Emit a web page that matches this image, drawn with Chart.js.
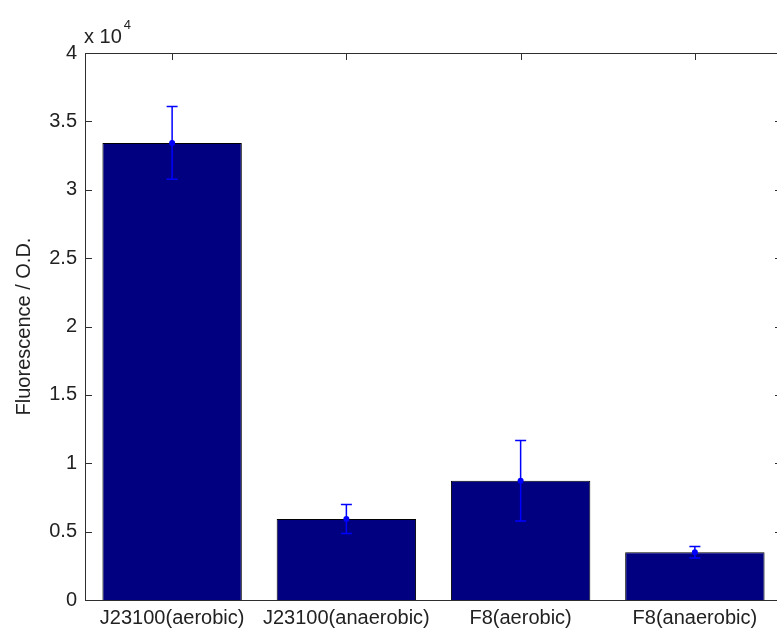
<!DOCTYPE html>
<html>
<head>
<meta charset="utf-8">
<script src="https://cdn.jsdelivr.net/npm/chart.js@4"></script>
<style>
    html, body { margin: 0; padding: 0; background: #fff; overflow: hidden; }
    #wrap { width: 790px; height: 630px; }
</style>
</head>
<body>
<div id="wrap"><canvas id="chart" width="790" height="630"></canvas></div>
<script>
// Data
const categories = ['J23100(aerobic)', 'J23100(anaerobic)', 'F8(aerobic)', 'F8(anaerobic)'];
const fluorescence = [33420, 5920, 8720, 3490];
const errors = [2660, 1060, 2950, 420];
const yTicks = [0, 5000, 10000, 15000, 20000, 25000, 30000, 35000, 40000];

const fontFamily = '"Liberation Sans", Arial, sans-serif';
const textColor = '#222';

// MATLAB style box with inward ticks, drawn under the bars
const axesBox = {
    id: 'axesBox',
    beforeDatasetsDraw(chart) {
        const ctx = chart.ctx;
        const a = chart.chartArea;
        const x = chart.scales.x;
        const y = chart.scales.y;
        const len = 7;
        ctx.save();
        ctx.strokeStyle = '#2e2e2e';
        ctx.lineWidth = 1;
        ctx.strokeRect(a.left + 0.5, a.top + 0.5, a.right - a.left, a.bottom - a.top);
        ctx.beginPath();
        y.ticks.forEach(t => {
            const py = Math.round(y.getPixelForValue(t.value)) + 0.5;
            ctx.moveTo(a.left, py); ctx.lineTo(a.left + len, py);
            ctx.moveTo(a.right, py); ctx.lineTo(a.right - len, py);
        });
        categories.forEach((c, i) => {
            const px = Math.round(x.getPixelForValue(i)) + 0.5;
            ctx.moveTo(px, a.top); ctx.lineTo(px, a.top + len);
            ctx.moveTo(px, a.bottom); ctx.lineTo(px, a.bottom - len);
        });
        ctx.stroke();

        // exponent label
        ctx.fillStyle = textColor;
        ctx.textBaseline = 'alphabetic';
        ctx.textAlign = 'left';
        ctx.font = '20px ' + fontFamily;
        ctx.fillText('x 10', a.left - 1, 43);
        const w = ctx.measureText('x 10').width;
        ctx.font = '13px ' + fontFamily;
        ctx.fillText('4', a.left - 1 + w + 2, 29);
        ctx.restore();
    }
};

// error bars with a dot at the mean
const errorBars = {
    id: 'errorBars',
    afterDatasetsDraw(chart) {
        const ctx = chart.ctx;
        const meta = chart.getDatasetMeta(0);
        const y = chart.scales.y;
        ctx.save();
        ctx.strokeStyle = '#0000ff';
        ctx.fillStyle = '#0000ff';
        ctx.lineWidth = 1.5;
        meta.data.forEach((bar, i) => {
            const px = bar.x;
            const top = y.getPixelForValue(fluorescence[i] + errors[i]);
            const bot = y.getPixelForValue(fluorescence[i] - errors[i]);
            const mid = y.getPixelForValue(fluorescence[i]);
            ctx.beginPath();
            ctx.moveTo(px, top); ctx.lineTo(px, bot);
            ctx.moveTo(px - 5.5, top); ctx.lineTo(px + 5.5, top);
            ctx.moveTo(px - 5.5, bot); ctx.lineTo(px + 5.5, bot);
            ctx.stroke();
            ctx.beginPath();
            ctx.arc(px, mid, 3, 0, Math.PI * 2);
            ctx.fill();
        });
        ctx.restore();
    }
};

new Chart(document.getElementById('chart'), {
    type: 'bar',
    data: {
        labels: categories,
        datasets: [{
            data: fluorescence,
            backgroundColor: '#000080',
            borderColor: '#000000',
            borderWidth: 1,
            barPercentage: 0.8,
            categoryPercentage: 1
        }]
    },
    options: {
        responsive: false,
        animation: false,
        layout: { padding: { top: 53, right: 8, left: 0, bottom: 0 } },
        plugins: {
            legend: { display: false },
            tooltip: { enabled: false }
        },
        scales: {
            x: {
                offset: true,
                grid: { display: false, drawTicks: false, tickLength: 0 },
                border: { display: false },
                ticks: {
                    color: textColor,
                    padding: 6,
                    maxRotation: 0,
                    autoSkip: false,
                    font: { family: fontFamily, size: 20 }
                },
                afterFit(s) { s.height = 30; }
            },
            y: {
                min: 0,
                max: 40000,
                grid: { display: false, drawTicks: false, tickLength: 0 },
                border: { display: false },
                afterBuildTicks(s) { s.ticks = yTicks.map(v => ({ value: v })); },
                ticks: {
                    color: textColor,
                    padding: 8,
                    font: { family: fontFamily, size: 20 },
                    callback: v => String(v / 10000)
                },
                title: {
                    display: true,
                    text: 'Fluorescence / O.D.',
                    color: textColor,
                    padding: { top: 12, bottom: 0 },
                    font: { family: fontFamily, size: 20 }
                },
                afterFit(s) { s.width = 85; }
            }
        }
    },
    plugins: [axesBox, errorBars]
});
</script>
</body>
</html>
